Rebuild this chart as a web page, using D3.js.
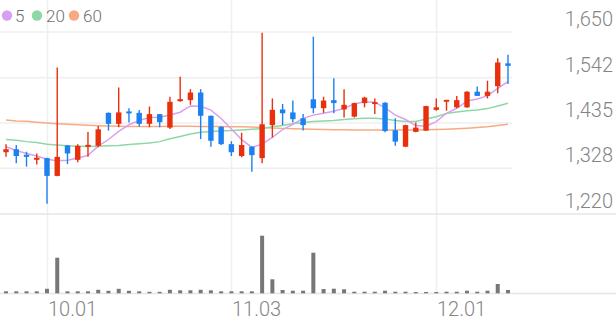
<!DOCTYPE html>
<html><head><meta charset="utf-8">
<script src="https://cdn.jsdelivr.net/npm/d3@7"></script>
<style>
body{margin:0;background:#fff;}
svg{display:block;font-family:Roboto,"Noto Sans",sans-serif;}
</style>
</head><body>
<svg id="chart" width="616" height="321"></svg>
<script>
const dates = ["09.21","09.22","09.25","09.26","10.01","10.02","10.04","10.05","10.06","10.10",
  "10.11","10.12","10.13","10.16","10.17","10.18","10.19","10.20","10.23","10.24",
  "10.25","10.26","11.03","11.06","11.07","11.08","11.09","11.10","11.13","11.14",
  "11.15","11.16","11.17","11.20","11.21","11.22","11.23","11.24","11.27","11.28",
  "11.29","11.30","12.01","12.04","12.05","12.06","12.07","12.08","12.11","12.12"];
const open  = [1366,1373,1360,1348,1352,1310,1382,1348,1379,1381,1459,1433,1462,1459,1433,1456,1424,1487,1489,1507,
  1452,1426,1385,1357,1379,1352,1430,1467,1460,1446,1491,1470,1489,1467,1450,1482,1480,1483,1418,1379,
  1414,1417,1466,1486,1472,1472,1509,1499,1522,1576];
const high  = [1385,1383,1367,1363,1353,1566,1383,1385,1414,1428,1460,1519,1470,1466,1474,1456,1497,1544,1515,1515,
  1453,1427,1392,1412,1380,1648,1493,1480,1488,1456,1639,1497,1541,1515,1483,1497,1493,1484,1446,1431,
  1436,1476,1493,1489,1499,1510,1521,1535,1588,1596];
const low   = [1355,1340,1332,1337,1244,1309,1338,1342,1355,1378,1417,1425,1436,1426,1425,1425,1421,1485,1478,1397,
  1379,1383,1357,1354,1320,1340,1401,1430,1436,1417,1458,1459,1458,1448,1448,1472,1456,1413,1381,1378,
  1413,1416,1464,1464,1470,1471,1499,1493,1505,1527];
const close = [1373,1357,1355,1353,1310,1355,1363,1381,1383,1420,1433,1460,1458,1433,1456,1437,1485,1491,1507,1452,
  1393,1385,1366,1383,1359,1432,1466,1458,1444,1430,1470,1488,1482,1478,1482,1495,1484,1416,1391,1430,
  1424,1475,1472,1489,1489,1509,1499,1509,1578,1570];
const volume = [20000,20000,20000,20000,45000,356000,20000,20000,20000,35000,25000,45000,25000,20000,15000,15000,35000,30000,30000,35000,
  30000,20000,20000,20000,20000,576000,140000,33000,26000,26000,406000,43000,46000,40000,16000,16000,16000,26000,16000,16000,
  13000,13000,13000,16000,16000,26000,16000,26000,93000,33000];
const ma5  = [1379,1370,1363,1357,1349.6,1346,1347.2,1352.4,1358.4,1380.4,1396,1415.4,1430.8,1440.8,1448,1448.8,1453.8,1460.4,1475.2,1474.4,
  1465.6,1445.6,1420.6,1395.8,1377.2,1385,1401.2,1419.6,1431.8,1446,1453.6,1458,1462.8,1469.6,1480,1485,1484.2,1471,1453.6,1443.2,
  1429,1427.2,1438.4,1458,1469.8,1486.8,1491.6,1499,1516.8,1533];
const ma20 = [1396,1394,1391,1389,1385,1383,1381,1380,1379.5,1380,1381,1382,1384,1386,1388,1391,1398,1403,1409,1413,
  1415,1416,1417,1418.5,1420,1422,1426,1429,1433,1436,1438.5,1440,1441,1443,1445,1446,1446,1444.5,1441,1438.5,
  1438.5,1444.5,1450,1457.5,1461,1464,1466,1469,1475,1481.5];
const ma60 = [1442,1440,1439,1437,1435,1433.5,1432,1431,1429.5,1428.5,1428,1427.5,1427,1427,1427,1427,1427.5,1427.5,1427.5,1427,
  1427,1426.5,1426.3,1426,1425.3,1424.4,1423,1422.3,1421.5,1420.8,1420,1419.6,1419,1419,1418.5,1418.5,1418.5,1418.5,1418.5,1418.5,
  1418.5,1419,1419.6,1420.4,1421.3,1422.7,1424.4,1426.3,1429,1432];
const priceTicks = [1650,1542,1435,1328,1220];
const dateTicks = ["10.01","11.03","12.01"];
const legendNames = ["5","20","60"];
const maColors = ["#d8a0f0","#8ed8a3","#f8aa85"];

const svg = d3.select("#chart");
const W = 616;
const x = d3.scaleBand().domain(dates).range([0.9, 513.1]);
const cx = d => x(d) + x.bandwidth()/2;
const y = d3.scaleLinear().domain([1220,1650]).range([214,32]);
const yv = d3.scaleLinear().domain([0,790000]).range([293.3,214.3]);

const UP = "#e8300d", DOWN = "#1c80f0";

// grid
const g = svg.append("g");
g.selectAll("line.h").data(priceTicks.filter(t=>t!==1220)).join("line")
  .attr("x1",0).attr("x2",512).attr("y1",d=>y(d)).attr("y2",d=>y(d))
  .attr("stroke","#efefef").attr("stroke-width",1.5);
g.selectAll("line.v").data(dateTicks).join("line")
  .attr("x1",d=>Math.round(cx(d))+0.5).attr("x2",d=>Math.round(cx(d))+0.5)
  .attr("y1",0).attr("y2",293)
  .attr("stroke","#efefef").attr("stroke-width",1.5);
// separators
[y(1220), 293.5].forEach(v=>{
  svg.append("line").attr("x1",0).attr("x2",W).attr("y1",v).attr("y2",v)
    .attr("stroke","#e6e6e6").attr("stroke-width",1.5);
});

// price axis labels
svg.append("g").selectAll("text").data(priceTicks).join("text")
  .attr("x",613).attr("y",d=>y(d)-6).attr("text-anchor","end")
  .attr("font-size",20).attr("font-weight",300).attr("fill","#858585")
  .text(d=>d3.format(",")(d));

// date labels
svg.append("g").selectAll("text").data(dateTicks).join("text")
  .attr("x",d=>Math.round(cx(d))+1).attr("y",316).attr("text-anchor","start")
  .attr("font-size",20).attr("font-weight",300).attr("fill","#858585").text(d=>d);

// MA lines
const idx = d3.range(dates.length);
[ma60, ma20, ma5].forEach((arr,k)=>{
  const col = maColors[2-k];
  svg.append("path").datum(idx)
    .attr("fill","none").attr("stroke",col).attr("stroke-width",1.5)
    .attr("d", d3.line().x(i=>cx(dates[i])).y(i=>y(arr[i])));
});

// candles
const cg = svg.append("g");
idx.forEach(i=>{
  const c = close[i] >= open[i] ? UP : DOWN;
  const X = cx(dates[i]);
  cg.append("line").attr("x1",X).attr("x2",X).attr("y1",y(high[i])).attr("y2",y(low[i]))
    .attr("stroke",c).attr("stroke-width",1.4);
  const top = y(Math.max(open[i],close[i])), bot = y(Math.min(open[i],close[i]));
  const h = Math.max(2, bot-top);
  cg.append("rect").attr("x",X-2.7).attr("width",5.4)
    .attr("y", (top+bot)/2 - h/2).attr("height",h).attr("fill",c);
});

// volume
svg.append("g").selectAll("rect").data(idx).join("rect")
  .attr("x",i=>cx(dates[i])-2).attr("width",4)
  .attr("y",i=>yv(volume[i])).attr("height",i=>yv(0)-yv(volume[i]))
  .attr("fill","#777");

// legend
const lg = svg.append("g");
const lx = [7,37,74], tx=[15,46,83];
legendNames.forEach((n,k)=>{
  lg.append("circle").attr("cx",lx[k]).attr("cy",15.5).attr("r",5.2).attr("fill",maColors[k]);
  lg.append("text").attr("x",tx[k]).attr("y",21.7).attr("font-size",17).attr("font-weight",300).attr("fill","#707070").text(n);
});
</script>
</body></html>
